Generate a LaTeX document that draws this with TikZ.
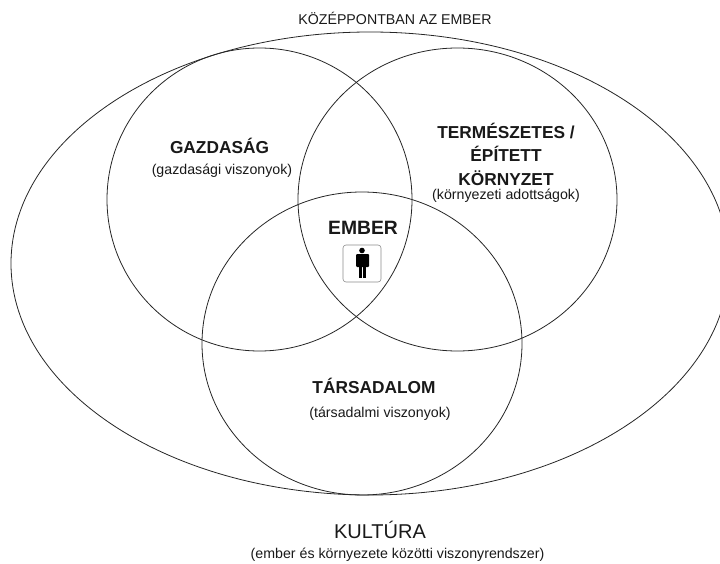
\documentclass[tikz,border=0pt]{standalone}
\usepackage{fontspec}
\setmainfont{Liberation Sans}
\tikzset{ring/.style={draw=black!85,line width=0.8pt},
lab/.style={align=center,text=black!90,inner sep=0pt},
big/.style={lab,font=\bfseries\fontsize{17.3}{23.5}\selectfont},
small/.style={lab,font=\fontsize{14.2}{17}\selectfont}}
\begin{document}
\begin{tikzpicture}[x=1pt,y=-1pt]
\useasboundingbox (0,0) rectangle (720,564);
\draw[ring] (370,263.5) ellipse [x radius=359,y radius=231.5];
\draw[ring] (259.5,199.5) ellipse [x radius=152.5,y radius=151.5];
\draw[ring] (457.5,199.5) ellipse [x radius=159.5,y radius=151.5];
\draw[ring] (362,343.5) ellipse [x radius=160,y radius=151.5];
\node[small] (t) at (395,18) {KÖZÉPPONTBAN AZ EMBER};
\node[big] (g) at (219.5,146) {GAZDASÁG};
\node[small] (g2) at (222,171) {(gazdasági viszonyok)};
\node[big] (k) at (506,154) {TERMÉSZETES /\\ÉPÍTETT\\KÖRNYZET};
\node[small] (k2) at (506,196) {(környezeti adottságok)};
\node[big,font=\bfseries\fontsize{19.3}{23}\selectfont] (e) at (363,228) {EMBER};
\node[big] (s) at (374,386) {TÁRSADALOM};
\node[small] (s2) at (380,414) {(társadalmi viszonyok)};
\node[lab,font=\fontsize{20}{24}\selectfont] (c) at (380,530) {KULTÚRA};
\node[small] (c2) at (397.5,555) {(ember és környezete közötti viszonyrendszer)};
\draw[draw=black!45,rounded corners=3pt,line width=0.6pt] (343,245) rectangle (381,282);
\fill[black] (362,250.5) circle (2.8);
\fill[black,rounded corners=1pt] (356,254) rectangle (369,267);
\fill[black] (358.5,265) rectangle (361.5,278);
\fill[black] (362.5,265) rectangle (365.5,278);
\end{tikzpicture}
\end{document}
